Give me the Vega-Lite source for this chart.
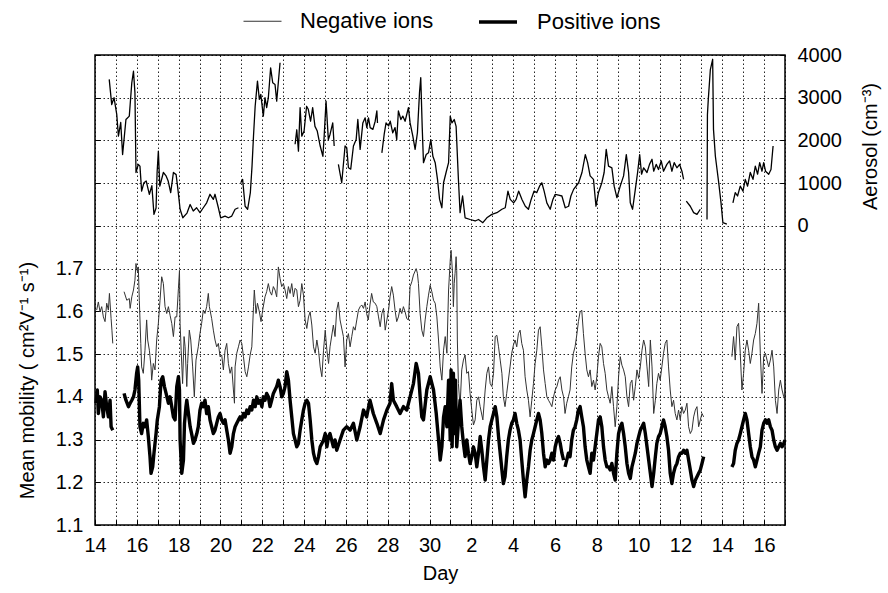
{
  "$schema": "https://vega.github.io/schema/vega-lite/v6.json",
  "autosize": "none",
  "width": 690,
  "height": 470,
  "padding": {"left": 95, "top": 55, "right": 103, "bottom": 68},
  "background": "white",
  "config": {
    "font": "Liberation Sans",
    "view": {"stroke": "black", "strokeWidth": 1.5},
    "axis": {
      "domain": false,
      "labelFontSize": 20,
      "labelColor": "black",
      "labelFlush": false,
      "titleFontSize": 20,
      "titleFontWeight": "normal",
      "titleColor": "black",
      "tickColor": "black",
      "tickSize": -5,
      "labelPadding": 17,
      "gridColor": "black",
      "gridOpacity": 0.85,
      "gridDash": [1.5, 2.5],
      "gridWidth": 1
    },
    "legend": {
      "labelFontSize": 22,
      "labelColor": "black",
      "symbolType": "stroke",
      "symbolSize": 1444
    }
  },
  "datasets": {
    "ions": [
      {"t": 14.08, "s": "Negative ions", "m": 1.603}, {"t": 14.16, "s": "Negative ions", "m": 1.622}, {"t": 14.24, "s": "Negative ions", "m": 1.599}, {"t": 14.32, "s": "Negative ions", "m": 1.611}, {"t": 14.40, "s": "Negative ions", "m": 1.587}, {"t": 14.48, "s": "Negative ions", "m": 1.576}, {"t": 14.56, "s": "Negative ions", "m": 1.619}, {"t": 14.64, "s": "Negative ions", "m": 1.603}, {"t": 14.69, "s": "Negative ions", "m": 1.642}, {"t": 14.77, "s": "Negative ions", "m": 1.583}, {"t": 14.81, "s": "Negative ions", "m": 1.556}, {"t": 14.85, "s": "Negative ions", "m": 1.525},
      {"t": 15.10, "s": "Negative ions", "m": null},
      {"t": 15.39, "s": "Negative ions", "m": 1.646}, {"t": 15.52, "s": "Negative ions", "m": 1.626}, {"t": 15.64, "s": "Negative ions", "m": 1.630}, {"t": 15.68, "s": "Negative ions", "m": 1.607}, {"t": 15.76, "s": "Negative ions", "m": 1.634}, {"t": 15.84, "s": "Negative ions", "m": 1.650}, {"t": 15.91, "s": "Negative ions", "m": 1.673}, {"t": 15.96, "s": "Negative ions", "m": 1.712}, {"t": 16.03, "s": "Negative ions", "m": 1.693}, {"t": 16.07, "s": "Negative ions", "m": 1.704}, {"t": 16.12, "s": "Negative ions", "m": 1.626}, {"t": 16.19, "s": "Negative ions", "m": 1.525}, {"t": 16.23, "s": "Negative ions", "m": 1.470}, {"t": 16.31, "s": "Negative ions", "m": 1.455}, {"t": 16.39, "s": "Negative ions", "m": 1.509}, {"t": 16.47, "s": "Negative ions", "m": 1.580}, {"t": 16.52, "s": "Negative ions", "m": 1.533}, {"t": 16.60, "s": "Negative ions", "m": 1.509}, {"t": 16.68, "s": "Negative ions", "m": 1.470}, {"t": 16.71, "s": "Negative ions", "m": 1.439}, {"t": 16.79, "s": "Negative ions", "m": 1.478}, {"t": 16.87, "s": "Negative ions", "m": 1.463}, {"t": 16.95, "s": "Negative ions", "m": 1.533}, {"t": 17.03, "s": "Negative ions", "m": 1.572}, {"t": 17.11, "s": "Negative ions", "m": 1.626}, {"t": 17.19, "s": "Negative ions", "m": 1.681}, {"t": 17.27, "s": "Negative ions", "m": 1.665}, {"t": 17.35, "s": "Negative ions", "m": 1.611}, {"t": 17.43, "s": "Negative ions", "m": 1.595}, {"t": 17.51, "s": "Negative ions", "m": 1.611}, {"t": 17.59, "s": "Negative ions", "m": 1.591}, {"t": 17.67, "s": "Negative ions", "m": 1.572}, {"t": 17.75, "s": "Negative ions", "m": 1.541}, {"t": 17.83, "s": "Negative ions", "m": 1.587}, {"t": 17.91, "s": "Negative ions", "m": 1.587}, {"t": 17.99, "s": "Negative ions", "m": 1.654}, {"t": 18.04, "s": "Negative ions", "m": 1.696}, {"t": 18.07, "s": "Negative ions", "m": 1.572}, {"t": 18.12, "s": "Negative ions", "m": 1.509}, {"t": 18.19, "s": "Negative ions", "m": 1.431}, {"t": 18.26, "s": "Negative ions", "m": 1.541}, {"t": 18.31, "s": "Negative ions", "m": 1.517}, {"t": 18.39, "s": "Negative ions", "m": 1.424}, {"t": 18.43, "s": "Negative ions", "m": 1.478}, {"t": 18.51, "s": "Negative ions", "m": 1.556}, {"t": 18.58, "s": "Negative ions", "m": 1.533}, {"t": 18.67, "s": "Negative ions", "m": 1.470}, {"t": 18.75, "s": "Negative ions", "m": 1.400}, {"t": 18.83, "s": "Negative ions", "m": 1.486}, {"t": 18.94, "s": "Negative ions", "m": 1.517}, {"t": 19.02, "s": "Negative ions", "m": 1.548}, {"t": 19.10, "s": "Negative ions", "m": 1.572}, {"t": 19.18, "s": "Negative ions", "m": 1.603}, {"t": 19.26, "s": "Negative ions", "m": 1.595}, {"t": 19.34, "s": "Negative ions", "m": 1.611}, {"t": 19.42, "s": "Negative ions", "m": 1.642}, {"t": 19.47, "s": "Negative ions", "m": 1.611}, {"t": 19.58, "s": "Negative ions", "m": 1.583}, {"t": 19.66, "s": "Negative ions", "m": 1.556}, {"t": 19.74, "s": "Negative ions", "m": 1.533}, {"t": 19.82, "s": "Negative ions", "m": 1.517}, {"t": 19.90, "s": "Negative ions", "m": 1.525}, {"t": 19.98, "s": "Negative ions", "m": 1.494}, {"t": 20.06, "s": "Negative ions", "m": 1.498}, {"t": 20.14, "s": "Negative ions", "m": 1.463}, {"t": 20.22, "s": "Negative ions", "m": 1.509}, {"t": 20.30, "s": "Negative ions", "m": 1.525}, {"t": 20.38, "s": "Negative ions", "m": 1.478}, {"t": 20.46, "s": "Negative ions", "m": 1.455}, {"t": 20.54, "s": "Negative ions", "m": 1.470}, {"t": 20.62, "s": "Negative ions", "m": 1.416}, {"t": 20.67, "s": "Negative ions", "m": 1.385}, {"t": 20.70, "s": "Negative ions", "m": 1.470}, {"t": 20.78, "s": "Negative ions", "m": 1.502}, {"t": 20.86, "s": "Negative ions", "m": 1.517}, {"t": 20.94, "s": "Negative ions", "m": 1.533}, {"t": 21.02, "s": "Negative ions", "m": 1.525}, {"t": 21.10, "s": "Negative ions", "m": 1.494}, {"t": 21.18, "s": "Negative ions", "m": 1.459}, {"t": 21.26, "s": "Negative ions", "m": 1.447}, {"t": 21.34, "s": "Negative ions", "m": 1.470}, {"t": 21.42, "s": "Negative ions", "m": 1.498}, {"t": 21.50, "s": "Negative ions", "m": 1.517}, {"t": 21.58, "s": "Negative ions", "m": 1.611}, {"t": 21.62, "s": "Negative ions", "m": 1.650}, {"t": 21.70, "s": "Negative ions", "m": 1.595}, {"t": 21.77, "s": "Negative ions", "m": 1.619}, {"t": 21.86, "s": "Negative ions", "m": 1.599}, {"t": 21.94, "s": "Negative ions", "m": 1.576}, {"t": 22.02, "s": "Negative ions", "m": 1.603}, {"t": 22.13, "s": "Negative ions", "m": 1.634}, {"t": 22.21, "s": "Negative ions", "m": 1.646}, {"t": 22.29, "s": "Negative ions", "m": 1.665}, {"t": 22.37, "s": "Negative ions", "m": 1.646}, {"t": 22.45, "s": "Negative ions", "m": 1.638}, {"t": 22.53, "s": "Negative ions", "m": 1.658}, {"t": 22.61, "s": "Negative ions", "m": 1.650}, {"t": 22.69, "s": "Negative ions", "m": 1.634}, {"t": 22.77, "s": "Negative ions", "m": 1.704}, {"t": 22.85, "s": "Negative ions", "m": 1.677}, {"t": 22.93, "s": "Negative ions", "m": 1.658}, {"t": 23.01, "s": "Negative ions", "m": 1.665}, {"t": 23.09, "s": "Negative ions", "m": 1.650}, {"t": 23.17, "s": "Negative ions", "m": 1.630}, {"t": 23.25, "s": "Negative ions", "m": 1.658}, {"t": 23.33, "s": "Negative ions", "m": 1.642}, {"t": 23.41, "s": "Negative ions", "m": 1.665}, {"t": 23.49, "s": "Negative ions", "m": 1.634}, {"t": 23.57, "s": "Negative ions", "m": 1.654}, {"t": 23.65, "s": "Negative ions", "m": 1.650}, {"t": 23.73, "s": "Negative ions", "m": 1.611}, {"t": 23.81, "s": "Negative ions", "m": 1.626}, {"t": 23.89, "s": "Negative ions", "m": 1.665}, {"t": 23.97, "s": "Negative ions", "m": 1.638}, {"t": 24.05, "s": "Negative ions", "m": 1.580}, {"t": 24.13, "s": "Negative ions", "m": 1.560}, {"t": 24.21, "s": "Negative ions", "m": 1.587}, {"t": 24.29, "s": "Negative ions", "m": 1.599}, {"t": 24.37, "s": "Negative ions", "m": 1.568}, {"t": 24.45, "s": "Negative ions", "m": 1.517}, {"t": 24.53, "s": "Negative ions", "m": 1.502}, {"t": 24.61, "s": "Negative ions", "m": 1.533}, {"t": 24.69, "s": "Negative ions", "m": 1.509}, {"t": 24.77, "s": "Negative ions", "m": 1.470}, {"t": 24.85, "s": "Negative ions", "m": 1.447}, {"t": 24.93, "s": "Negative ions", "m": 1.509}, {"t": 25.01, "s": "Negative ions", "m": 1.556}, {"t": 25.09, "s": "Negative ions", "m": 1.509}, {"t": 25.17, "s": "Negative ions", "m": 1.478}, {"t": 25.24, "s": "Negative ions", "m": 1.517}, {"t": 25.40, "s": "Negative ions", "m": 1.568}, {"t": 25.48, "s": "Negative ions", "m": 1.541}, {"t": 25.56, "s": "Negative ions", "m": 1.603}, {"t": 25.64, "s": "Negative ions", "m": 1.622}, {"t": 25.72, "s": "Negative ions", "m": 1.580}, {"t": 25.88, "s": "Negative ions", "m": 1.541}, {"t": 25.96, "s": "Negative ions", "m": 1.470}, {"t": 26.04, "s": "Negative ions", "m": 1.533}, {"t": 26.12, "s": "Negative ions", "m": 1.548}, {"t": 26.20, "s": "Negative ions", "m": 1.517}, {"t": 26.28, "s": "Negative ions", "m": 1.541}, {"t": 26.36, "s": "Negative ions", "m": 1.564}, {"t": 26.44, "s": "Negative ions", "m": 1.556}, {"t": 26.52, "s": "Negative ions", "m": 1.580}, {"t": 26.60, "s": "Negative ions", "m": 1.603}, {"t": 26.68, "s": "Negative ions", "m": 1.611}, {"t": 26.76, "s": "Negative ions", "m": 1.615}, {"t": 26.84, "s": "Negative ions", "m": 1.607}, {"t": 26.92, "s": "Negative ions", "m": 1.622}, {"t": 26.99, "s": "Negative ions", "m": 1.595}, {"t": 27.07, "s": "Negative ions", "m": 1.580}, {"t": 27.15, "s": "Negative ions", "m": 1.615}, {"t": 27.23, "s": "Negative ions", "m": 1.642}, {"t": 27.31, "s": "Negative ions", "m": 1.622}, {"t": 27.40, "s": "Negative ions", "m": 1.619}, {"t": 27.48, "s": "Negative ions", "m": 1.611}, {"t": 27.56, "s": "Negative ions", "m": 1.587}, {"t": 27.64, "s": "Negative ions", "m": 1.564}, {"t": 27.72, "s": "Negative ions", "m": 1.595}, {"t": 27.80, "s": "Negative ions", "m": 1.607}, {"t": 27.88, "s": "Negative ions", "m": 1.556}, {"t": 27.96, "s": "Negative ions", "m": 1.580}, {"t": 28.04, "s": "Negative ions", "m": 1.603}, {"t": 28.11, "s": "Negative ions", "m": 1.634}, {"t": 28.19, "s": "Negative ions", "m": 1.658}, {"t": 28.27, "s": "Negative ions", "m": 1.638}, {"t": 28.35, "s": "Negative ions", "m": 1.603}, {"t": 28.43, "s": "Negative ions", "m": 1.576}, {"t": 28.51, "s": "Negative ions", "m": 1.587}, {"t": 28.59, "s": "Negative ions", "m": 1.607}, {"t": 28.67, "s": "Negative ions", "m": 1.595}, {"t": 28.75, "s": "Negative ions", "m": 1.611}, {"t": 28.83, "s": "Negative ions", "m": 1.599}, {"t": 28.91, "s": "Negative ions", "m": 1.583}, {"t": 28.99, "s": "Negative ions", "m": 1.580}, {"t": 29.07, "s": "Negative ions", "m": 1.658}, {"t": 29.15, "s": "Negative ions", "m": 1.669}, {"t": 29.23, "s": "Negative ions", "m": 1.685}, {"t": 29.36, "s": "Negative ions", "m": 1.700}, {"t": 29.42, "s": "Negative ions", "m": 1.689}, {"t": 29.47, "s": "Negative ions", "m": 1.665}, {"t": 29.55, "s": "Negative ions", "m": 1.595}, {"t": 29.63, "s": "Negative ions", "m": 1.556}, {"t": 29.71, "s": "Negative ions", "m": 1.541}, {"t": 29.79, "s": "Negative ions", "m": 1.580}, {"t": 29.87, "s": "Negative ions", "m": 1.611}, {"t": 29.95, "s": "Negative ions", "m": 1.638}, {"t": 30.03, "s": "Negative ions", "m": 1.661}, {"t": 30.11, "s": "Negative ions", "m": 1.646}, {"t": 30.19, "s": "Negative ions", "m": 1.626}, {"t": 30.27, "s": "Negative ions", "m": 1.619}, {"t": 30.35, "s": "Negative ions", "m": 1.587}, {"t": 30.43, "s": "Negative ions", "m": 1.533}, {"t": 30.51, "s": "Negative ions", "m": 1.470}, {"t": 30.59, "s": "Negative ions", "m": 1.439}, {"t": 30.67, "s": "Negative ions", "m": 1.509}, {"t": 30.75, "s": "Negative ions", "m": 1.541}, {"t": 30.83, "s": "Negative ions", "m": 1.502}, {"t": 30.91, "s": "Negative ions", "m": 1.650}, {"t": 30.99, "s": "Negative ions", "m": 1.720}, {"t": 31.03, "s": "Negative ions", "m": 1.743}, {"t": 31.10, "s": "Negative ions", "m": 1.689}, {"t": 31.14, "s": "Negative ions", "m": 1.611}, {"t": 31.18, "s": "Negative ions", "m": 1.665}, {"t": 31.22, "s": "Negative ions", "m": 1.689}, {"t": 31.27, "s": "Negative ions", "m": 1.728}, {"t": 31.30, "s": "Negative ions", "m": 1.696}, {"t": 31.33, "s": "Negative ions", "m": 1.533}, {"t": 31.38, "s": "Negative ions", "m": 1.431}, {"t": 31.46, "s": "Negative ions", "m": 1.377}, {"t": 31.54, "s": "Negative ions", "m": 1.463}, {"t": 31.62, "s": "Negative ions", "m": 1.486}, {"t": 31.70, "s": "Negative ions", "m": 1.498}, {"t": 31.78, "s": "Negative ions", "m": 1.455}, {"t": 31.86, "s": "Negative ions", "m": 1.459}, {"t": 31.94, "s": "Negative ions", "m": 1.408}, {"t": 32.02, "s": "Negative ions", "m": 1.369}, {"t": 32.10, "s": "Negative ions", "m": 1.334}, {"t": 32.18, "s": "Negative ions", "m": 1.346}, {"t": 32.26, "s": "Negative ions", "m": 1.392}, {"t": 32.34, "s": "Negative ions", "m": 1.400}, {"t": 32.42, "s": "Negative ions", "m": 1.377}, {"t": 32.55, "s": "Negative ions", "m": 1.346}, {"t": 32.66, "s": "Negative ions", "m": 1.416}, {"t": 32.74, "s": "Negative ions", "m": 1.455}, {"t": 32.82, "s": "Negative ions", "m": 1.470}, {"t": 32.90, "s": "Negative ions", "m": 1.431}, {"t": 32.98, "s": "Negative ions", "m": 1.424}, {"t": 33.06, "s": "Negative ions", "m": 1.455}, {"t": 33.14, "s": "Negative ions", "m": 1.541}, {"t": 33.22, "s": "Negative ions", "m": 1.544}, {"t": 33.30, "s": "Negative ions", "m": 1.517}, {"t": 33.38, "s": "Negative ions", "m": 1.486}, {"t": 33.46, "s": "Negative ions", "m": 1.455}, {"t": 33.53, "s": "Negative ions", "m": 1.400}, {"t": 33.61, "s": "Negative ions", "m": 1.377}, {"t": 33.69, "s": "Negative ions", "m": 1.408}, {"t": 33.77, "s": "Negative ions", "m": 1.439}, {"t": 33.85, "s": "Negative ions", "m": 1.470}, {"t": 33.93, "s": "Negative ions", "m": 1.502}, {"t": 34.01, "s": "Negative ions", "m": 1.521}, {"t": 34.09, "s": "Negative ions", "m": 1.533}, {"t": 34.17, "s": "Negative ions", "m": 1.517}, {"t": 34.25, "s": "Negative ions", "m": 1.548}, {"t": 34.33, "s": "Negative ions", "m": 1.556}, {"t": 34.41, "s": "Negative ions", "m": 1.525}, {"t": 34.49, "s": "Negative ions", "m": 1.509}, {"t": 34.57, "s": "Negative ions", "m": 1.447}, {"t": 34.65, "s": "Negative ions", "m": 1.416}, {"t": 34.73, "s": "Negative ions", "m": 1.392}, {"t": 34.81, "s": "Negative ions", "m": 1.353}, {"t": 34.89, "s": "Negative ions", "m": 1.392}, {"t": 34.97, "s": "Negative ions", "m": 1.431}, {"t": 35.05, "s": "Negative ions", "m": 1.478}, {"t": 35.13, "s": "Negative ions", "m": 1.509}, {"t": 35.21, "s": "Negative ions", "m": 1.556}, {"t": 35.29, "s": "Negative ions", "m": 1.564}, {"t": 35.37, "s": "Negative ions", "m": 1.517}, {"t": 35.45, "s": "Negative ions", "m": 1.463}, {"t": 35.53, "s": "Negative ions", "m": 1.431}, {"t": 35.61, "s": "Negative ions", "m": 1.400}, {"t": 35.69, "s": "Negative ions", "m": 1.392}, {"t": 35.77, "s": "Negative ions", "m": 1.385}, {"t": 35.85, "s": "Negative ions", "m": 1.377}, {"t": 35.93, "s": "Negative ions", "m": 1.400}, {"t": 36.01, "s": "Negative ions", "m": 1.416}, {"t": 36.09, "s": "Negative ions", "m": 1.424}, {"t": 36.17, "s": "Negative ions", "m": 1.439}, {"t": 36.25, "s": "Negative ions", "m": 1.447}, {"t": 36.33, "s": "Negative ions", "m": 1.416}, {"t": 36.41, "s": "Negative ions", "m": 1.400}, {"t": 36.48, "s": "Negative ions", "m": 1.361}, {"t": 36.56, "s": "Negative ions", "m": 1.385}, {"t": 36.64, "s": "Negative ions", "m": 1.400}, {"t": 36.72, "s": "Negative ions", "m": 1.416}, {"t": 36.80, "s": "Negative ions", "m": 1.470}, {"t": 36.88, "s": "Negative ions", "m": 1.502}, {"t": 36.96, "s": "Negative ions", "m": 1.517}, {"t": 37.04, "s": "Negative ions", "m": 1.544}, {"t": 37.12, "s": "Negative ions", "m": 1.576}, {"t": 37.20, "s": "Negative ions", "m": 1.599}, {"t": 37.28, "s": "Negative ions", "m": 1.603}, {"t": 37.36, "s": "Negative ions", "m": 1.548}, {"t": 37.44, "s": "Negative ions", "m": 1.502}, {"t": 37.52, "s": "Negative ions", "m": 1.463}, {"t": 37.60, "s": "Negative ions", "m": 1.447}, {"t": 37.68, "s": "Negative ions", "m": 1.463}, {"t": 37.76, "s": "Negative ions", "m": 1.424}, {"t": 37.84, "s": "Negative ions", "m": 1.439}, {"t": 37.92, "s": "Negative ions", "m": 1.416}, {"t": 38.00, "s": "Negative ions", "m": 1.447}, {"t": 38.08, "s": "Negative ions", "m": 1.494}, {"t": 38.16, "s": "Negative ions", "m": 1.525}, {"t": 38.24, "s": "Negative ions", "m": 1.517}, {"t": 38.32, "s": "Negative ions", "m": 1.478}, {"t": 38.40, "s": "Negative ions", "m": 1.455}, {"t": 38.48, "s": "Negative ions", "m": 1.416}, {"t": 38.56, "s": "Negative ions", "m": 1.400}, {"t": 38.64, "s": "Negative ions", "m": 1.385}, {"t": 38.72, "s": "Negative ions", "m": 1.424}, {"t": 38.80, "s": "Negative ions", "m": 1.377}, {"t": 38.88, "s": "Negative ions", "m": 1.330}, {"t": 38.96, "s": "Negative ions", "m": 1.377}, {"t": 39.04, "s": "Negative ions", "m": 1.447}, {"t": 39.12, "s": "Negative ions", "m": 1.494}, {"t": 39.20, "s": "Negative ions", "m": 1.474}, {"t": 39.28, "s": "Negative ions", "m": 1.463}, {"t": 39.36, "s": "Negative ions", "m": 1.447}, {"t": 39.44, "s": "Negative ions", "m": 1.400}, {"t": 39.52, "s": "Negative ions", "m": 1.377}, {"t": 39.60, "s": "Negative ions", "m": 1.431}, {"t": 39.68, "s": "Negative ions", "m": 1.439}, {"t": 39.76, "s": "Negative ions", "m": 1.392}, {"t": 39.84, "s": "Negative ions", "m": 1.424}, {"t": 39.92, "s": "Negative ions", "m": 1.463}, {"t": 40.00, "s": "Negative ions", "m": 1.443}, {"t": 40.08, "s": "Negative ions", "m": 1.470}, {"t": 40.16, "s": "Negative ions", "m": 1.509}, {"t": 40.24, "s": "Negative ions", "m": 1.533}, {"t": 40.32, "s": "Negative ions", "m": 1.517}, {"t": 40.40, "s": "Negative ions", "m": 1.470}, {"t": 40.48, "s": "Negative ions", "m": 1.424}, {"t": 40.56, "s": "Negative ions", "m": 1.533}, {"t": 40.64, "s": "Negative ions", "m": 1.470}, {"t": 40.72, "s": "Negative ions", "m": 1.361}, {"t": 40.80, "s": "Negative ions", "m": 1.392}, {"t": 40.87, "s": "Negative ions", "m": 1.431}, {"t": 40.95, "s": "Negative ions", "m": 1.455}, {"t": 41.03, "s": "Negative ions", "m": 1.439}, {"t": 41.11, "s": "Negative ions", "m": 1.470}, {"t": 41.19, "s": "Negative ions", "m": 1.502}, {"t": 41.27, "s": "Negative ions", "m": 1.525}, {"t": 41.35, "s": "Negative ions", "m": 1.533}, {"t": 41.43, "s": "Negative ions", "m": 1.470}, {"t": 41.51, "s": "Negative ions", "m": 1.416}, {"t": 41.59, "s": "Negative ions", "m": 1.377}, {"t": 41.67, "s": "Negative ions", "m": 1.392}, {"t": 41.75, "s": "Negative ions", "m": 1.361}, {"t": 41.83, "s": "Negative ions", "m": 1.346}, {"t": 41.91, "s": "Negative ions", "m": 1.369}, {"t": 41.99, "s": "Negative ions", "m": 1.346}, {"t": 42.07, "s": "Negative ions", "m": 1.377}, {"t": 42.15, "s": "Negative ions", "m": 1.361}, {"t": 42.23, "s": "Negative ions", "m": 1.369}, {"t": 42.31, "s": "Negative ions", "m": 1.385}, {"t": 42.39, "s": "Negative ions", "m": 1.330}, {"t": 42.47, "s": "Negative ions", "m": 1.314}, {"t": 42.55, "s": "Negative ions", "m": 1.322}, {"t": 42.63, "s": "Negative ions", "m": 1.353}, {"t": 42.71, "s": "Negative ions", "m": 1.369}, {"t": 42.79, "s": "Negative ions", "m": 1.377}, {"t": 42.87, "s": "Negative ions", "m": 1.330}, {"t": 42.95, "s": "Negative ions", "m": 1.346}, {"t": 43.03, "s": "Negative ions", "m": 1.361}, {"t": 43.11, "s": "Negative ions", "m": 1.353},
      {"t": 43.80, "s": "Negative ions", "m": null},
      {"t": 44.46, "s": "Negative ions", "m": 1.494}, {"t": 44.54, "s": "Negative ions", "m": 1.541}, {"t": 44.62, "s": "Negative ions", "m": 1.486}, {"t": 44.70, "s": "Negative ions", "m": 1.564}, {"t": 44.78, "s": "Negative ions", "m": 1.572}, {"t": 44.86, "s": "Negative ions", "m": 1.502}, {"t": 44.94, "s": "Negative ions", "m": 1.416}, {"t": 45.02, "s": "Negative ions", "m": 1.455}, {"t": 45.10, "s": "Negative ions", "m": 1.509}, {"t": 45.18, "s": "Negative ions", "m": 1.533}, {"t": 45.26, "s": "Negative ions", "m": 1.509}, {"t": 45.34, "s": "Negative ions", "m": 1.478}, {"t": 45.42, "s": "Negative ions", "m": 1.502}, {"t": 45.50, "s": "Negative ions", "m": 1.533}, {"t": 45.58, "s": "Negative ions", "m": 1.548}, {"t": 45.66, "s": "Negative ions", "m": 1.572}, {"t": 45.74, "s": "Negative ions", "m": 1.619}, {"t": 45.82, "s": "Negative ions", "m": 1.502}, {"t": 45.90, "s": "Negative ions", "m": 1.408}, {"t": 45.98, "s": "Negative ions", "m": 1.494}, {"t": 46.06, "s": "Negative ions", "m": 1.502}, {"t": 46.14, "s": "Negative ions", "m": 1.486}, {"t": 46.22, "s": "Negative ions", "m": 1.470}, {"t": 46.30, "s": "Negative ions", "m": 1.486}, {"t": 46.38, "s": "Negative ions", "m": 1.509}, {"t": 46.46, "s": "Negative ions", "m": 1.470}, {"t": 46.54, "s": "Negative ions", "m": 1.392}, {"t": 46.62, "s": "Negative ions", "m": 1.361}, {"t": 46.70, "s": "Negative ions", "m": 1.416}, {"t": 46.78, "s": "Negative ions", "m": 1.439}, {"t": 46.86, "s": "Negative ions", "m": 1.416}, {"t": 46.94, "s": "Negative ions", "m": 1.400}, {"t": 47.00, "s": "Negative ions", "m": 1.392},

      {"t": 14.05, "s": "Positive ions", "m": 1.385}, {"t": 14.11, "s": "Positive ions", "m": 1.416}, {"t": 14.16, "s": "Positive ions", "m": 1.361}, {"t": 14.24, "s": "Positive ions", "m": 1.400}, {"t": 14.32, "s": "Positive ions", "m": 1.392}, {"t": 14.40, "s": "Positive ions", "m": 1.353}, {"t": 14.48, "s": "Positive ions", "m": 1.412}, {"t": 14.56, "s": "Positive ions", "m": 1.377}, {"t": 14.64, "s": "Positive ions", "m": 1.353}, {"t": 14.72, "s": "Positive ions", "m": 1.392}, {"t": 14.77, "s": "Positive ions", "m": 1.330}, {"t": 14.85, "s": "Positive ions", "m": 1.322},
      {"t": 15.10, "s": "Positive ions", "m": null},
      {"t": 15.39, "s": "Positive ions", "m": 1.408}, {"t": 15.48, "s": "Positive ions", "m": 1.392}, {"t": 15.60, "s": "Positive ions", "m": 1.377}, {"t": 15.68, "s": "Positive ions", "m": 1.385}, {"t": 15.76, "s": "Positive ions", "m": 1.392}, {"t": 15.84, "s": "Positive ions", "m": 1.400}, {"t": 15.91, "s": "Positive ions", "m": 1.416}, {"t": 15.99, "s": "Positive ions", "m": 1.455}, {"t": 16.04, "s": "Positive ions", "m": 1.470}, {"t": 16.09, "s": "Positive ions", "m": 1.439}, {"t": 16.15, "s": "Positive ions", "m": 1.330}, {"t": 16.23, "s": "Positive ions", "m": 1.314}, {"t": 16.31, "s": "Positive ions", "m": 1.338}, {"t": 16.39, "s": "Positive ions", "m": 1.330}, {"t": 16.47, "s": "Positive ions", "m": 1.346}, {"t": 16.55, "s": "Positive ions", "m": 1.307}, {"t": 16.63, "s": "Positive ions", "m": 1.260}, {"t": 16.68, "s": "Positive ions", "m": 1.221}, {"t": 16.76, "s": "Positive ions", "m": 1.236}, {"t": 16.82, "s": "Positive ions", "m": 1.268}, {"t": 16.92, "s": "Positive ions", "m": 1.314}, {"t": 16.98, "s": "Positive ions", "m": 1.346}, {"t": 17.08, "s": "Positive ions", "m": 1.377}, {"t": 17.16, "s": "Positive ions", "m": 1.439}, {"t": 17.24, "s": "Positive ions", "m": 1.447}, {"t": 17.32, "s": "Positive ions", "m": 1.424}, {"t": 17.40, "s": "Positive ions", "m": 1.408}, {"t": 17.51, "s": "Positive ions", "m": 1.385}, {"t": 17.59, "s": "Positive ions", "m": 1.400}, {"t": 17.67, "s": "Positive ions", "m": 1.377}, {"t": 17.75, "s": "Positive ions", "m": 1.353}, {"t": 17.83, "s": "Positive ions", "m": 1.346}, {"t": 17.91, "s": "Positive ions", "m": 1.424}, {"t": 17.99, "s": "Positive ions", "m": 1.447}, {"t": 18.04, "s": "Positive ions", "m": 1.416}, {"t": 18.07, "s": "Positive ions", "m": 1.299}, {"t": 18.15, "s": "Positive ions", "m": 1.221}, {"t": 18.23, "s": "Positive ions", "m": 1.252}, {"t": 18.28, "s": "Positive ions", "m": 1.338}, {"t": 18.35, "s": "Positive ions", "m": 1.377}, {"t": 18.39, "s": "Positive ions", "m": 1.392}, {"t": 18.47, "s": "Positive ions", "m": 1.361}, {"t": 18.55, "s": "Positive ions", "m": 1.330}, {"t": 18.62, "s": "Positive ions", "m": 1.314}, {"t": 18.71, "s": "Positive ions", "m": 1.291}, {"t": 18.78, "s": "Positive ions", "m": 1.299}, {"t": 18.87, "s": "Positive ions", "m": 1.314}, {"t": 18.94, "s": "Positive ions", "m": 1.330}, {"t": 19.02, "s": "Positive ions", "m": 1.369}, {"t": 19.10, "s": "Positive ions", "m": 1.385}, {"t": 19.18, "s": "Positive ions", "m": 1.377}, {"t": 19.26, "s": "Positive ions", "m": 1.392}, {"t": 19.34, "s": "Positive ions", "m": 1.361}, {"t": 19.42, "s": "Positive ions", "m": 1.377}, {"t": 19.50, "s": "Positive ions", "m": 1.346}, {"t": 19.58, "s": "Positive ions", "m": 1.330}, {"t": 19.66, "s": "Positive ions", "m": 1.314}, {"t": 19.74, "s": "Positive ions", "m": 1.322}, {"t": 19.82, "s": "Positive ions", "m": 1.338}, {"t": 19.90, "s": "Positive ions", "m": 1.353}, {"t": 19.98, "s": "Positive ions", "m": 1.361}, {"t": 20.06, "s": "Positive ions", "m": 1.346}, {"t": 20.14, "s": "Positive ions", "m": 1.338}, {"t": 20.22, "s": "Positive ions", "m": 1.346}, {"t": 20.30, "s": "Positive ions", "m": 1.322}, {"t": 20.38, "s": "Positive ions", "m": 1.299}, {"t": 20.46, "s": "Positive ions", "m": 1.268}, {"t": 20.54, "s": "Positive ions", "m": 1.283}, {"t": 20.62, "s": "Positive ions", "m": 1.314}, {"t": 20.70, "s": "Positive ions", "m": 1.330}, {"t": 20.78, "s": "Positive ions", "m": 1.338}, {"t": 20.86, "s": "Positive ions", "m": 1.346}, {"t": 20.94, "s": "Positive ions", "m": 1.353}, {"t": 21.02, "s": "Positive ions", "m": 1.346}, {"t": 21.10, "s": "Positive ions", "m": 1.361}, {"t": 21.18, "s": "Positive ions", "m": 1.353}, {"t": 21.26, "s": "Positive ions", "m": 1.369}, {"t": 21.34, "s": "Positive ions", "m": 1.361}, {"t": 21.42, "s": "Positive ions", "m": 1.377}, {"t": 21.50, "s": "Positive ions", "m": 1.369}, {"t": 21.58, "s": "Positive ions", "m": 1.392}, {"t": 21.66, "s": "Positive ions", "m": 1.377}, {"t": 21.74, "s": "Positive ions", "m": 1.400}, {"t": 21.82, "s": "Positive ions", "m": 1.385}, {"t": 21.90, "s": "Positive ions", "m": 1.392}, {"t": 21.98, "s": "Positive ions", "m": 1.377}, {"t": 22.05, "s": "Positive ions", "m": 1.400}, {"t": 22.13, "s": "Positive ions", "m": 1.392}, {"t": 22.21, "s": "Positive ions", "m": 1.408}, {"t": 22.29, "s": "Positive ions", "m": 1.400}, {"t": 22.37, "s": "Positive ions", "m": 1.377}, {"t": 22.45, "s": "Positive ions", "m": 1.392}, {"t": 22.53, "s": "Positive ions", "m": 1.408}, {"t": 22.61, "s": "Positive ions", "m": 1.416}, {"t": 22.69, "s": "Positive ions", "m": 1.424}, {"t": 22.77, "s": "Positive ions", "m": 1.439}, {"t": 22.85, "s": "Positive ions", "m": 1.424}, {"t": 22.93, "s": "Positive ions", "m": 1.400}, {"t": 23.01, "s": "Positive ions", "m": 1.408}, {"t": 23.09, "s": "Positive ions", "m": 1.424}, {"t": 23.17, "s": "Positive ions", "m": 1.459}, {"t": 23.25, "s": "Positive ions", "m": 1.439}, {"t": 23.33, "s": "Positive ions", "m": 1.392}, {"t": 23.41, "s": "Positive ions", "m": 1.353}, {"t": 23.49, "s": "Positive ions", "m": 1.314}, {"t": 23.57, "s": "Positive ions", "m": 1.299}, {"t": 23.65, "s": "Positive ions", "m": 1.283}, {"t": 23.73, "s": "Positive ions", "m": 1.291}, {"t": 23.81, "s": "Positive ions", "m": 1.322}, {"t": 23.89, "s": "Positive ions", "m": 1.346}, {"t": 23.97, "s": "Positive ions", "m": 1.369}, {"t": 24.05, "s": "Positive ions", "m": 1.385}, {"t": 24.13, "s": "Positive ions", "m": 1.392}, {"t": 24.21, "s": "Positive ions", "m": 1.385}, {"t": 24.29, "s": "Positive ions", "m": 1.346}, {"t": 24.37, "s": "Positive ions", "m": 1.299}, {"t": 24.45, "s": "Positive ions", "m": 1.268}, {"t": 24.53, "s": "Positive ions", "m": 1.252}, {"t": 24.61, "s": "Positive ions", "m": 1.244}, {"t": 24.69, "s": "Positive ions", "m": 1.260}, {"t": 24.77, "s": "Positive ions", "m": 1.283}, {"t": 24.85, "s": "Positive ions", "m": 1.291}, {"t": 24.93, "s": "Positive ions", "m": 1.299}, {"t": 25.01, "s": "Positive ions", "m": 1.314}, {"t": 25.09, "s": "Positive ions", "m": 1.283}, {"t": 25.17, "s": "Positive ions", "m": 1.307}, {"t": 25.24, "s": "Positive ions", "m": 1.314}, {"t": 25.40, "s": "Positive ions", "m": 1.283}, {"t": 25.48, "s": "Positive ions", "m": 1.299}, {"t": 25.56, "s": "Positive ions", "m": 1.275}, {"t": 25.72, "s": "Positive ions", "m": 1.299}, {"t": 25.88, "s": "Positive ions", "m": 1.322}, {"t": 26.04, "s": "Positive ions", "m": 1.330}, {"t": 26.20, "s": "Positive ions", "m": 1.322}, {"t": 26.36, "s": "Positive ions", "m": 1.338}, {"t": 26.52, "s": "Positive ions", "m": 1.299}, {"t": 26.68, "s": "Positive ions", "m": 1.330}, {"t": 26.84, "s": "Positive ions", "m": 1.369}, {"t": 26.99, "s": "Positive ions", "m": 1.353}, {"t": 27.15, "s": "Positive ions", "m": 1.392}, {"t": 27.31, "s": "Positive ions", "m": 1.361}, {"t": 27.48, "s": "Positive ions", "m": 1.338}, {"t": 27.64, "s": "Positive ions", "m": 1.314}, {"t": 27.80, "s": "Positive ions", "m": 1.346}, {"t": 27.96, "s": "Positive ions", "m": 1.369}, {"t": 28.11, "s": "Positive ions", "m": 1.385}, {"t": 28.19, "s": "Positive ions", "m": 1.431}, {"t": 28.27, "s": "Positive ions", "m": 1.392}, {"t": 28.43, "s": "Positive ions", "m": 1.377}, {"t": 28.59, "s": "Positive ions", "m": 1.361}, {"t": 28.75, "s": "Positive ions", "m": 1.377}, {"t": 28.91, "s": "Positive ions", "m": 1.369}, {"t": 29.07, "s": "Positive ions", "m": 1.400}, {"t": 29.23, "s": "Positive ions", "m": 1.431}, {"t": 29.36, "s": "Positive ions", "m": 1.478}, {"t": 29.47, "s": "Positive ions", "m": 1.455}, {"t": 29.55, "s": "Positive ions", "m": 1.400}, {"t": 29.63, "s": "Positive ions", "m": 1.353}, {"t": 29.71, "s": "Positive ions", "m": 1.346}, {"t": 29.87, "s": "Positive ions", "m": 1.416}, {"t": 30.03, "s": "Positive ions", "m": 1.447}, {"t": 30.19, "s": "Positive ions", "m": 1.416}, {"t": 30.32, "s": "Positive ions", "m": 1.361}, {"t": 30.43, "s": "Positive ions", "m": 1.299}, {"t": 30.51, "s": "Positive ions", "m": 1.252}, {"t": 30.59, "s": "Positive ions", "m": 1.283}, {"t": 30.67, "s": "Positive ions", "m": 1.353}, {"t": 30.75, "s": "Positive ions", "m": 1.377}, {"t": 30.83, "s": "Positive ions", "m": 1.330}, {"t": 30.91, "s": "Positive ions", "m": 1.439}, {"t": 30.99, "s": "Positive ions", "m": 1.299}, {"t": 31.03, "s": "Positive ions", "m": 1.463}, {"t": 31.08, "s": "Positive ions", "m": 1.283}, {"t": 31.14, "s": "Positive ions", "m": 1.455}, {"t": 31.19, "s": "Positive ions", "m": 1.314}, {"t": 31.24, "s": "Positive ions", "m": 1.439}, {"t": 31.30, "s": "Positive ions", "m": 1.283}, {"t": 31.38, "s": "Positive ions", "m": 1.338}, {"t": 31.46, "s": "Positive ions", "m": 1.392}, {"t": 31.54, "s": "Positive ions", "m": 1.330}, {"t": 31.62, "s": "Positive ions", "m": 1.291}, {"t": 31.70, "s": "Positive ions", "m": 1.260}, {"t": 31.78, "s": "Positive ions", "m": 1.299}, {"t": 31.86, "s": "Positive ions", "m": 1.268}, {"t": 31.94, "s": "Positive ions", "m": 1.244}, {"t": 32.02, "s": "Positive ions", "m": 1.260}, {"t": 32.10, "s": "Positive ions", "m": 1.283}, {"t": 32.18, "s": "Positive ions", "m": 1.268}, {"t": 32.26, "s": "Positive ions", "m": 1.236}, {"t": 32.34, "s": "Positive ions", "m": 1.268}, {"t": 32.42, "s": "Positive ions", "m": 1.307}, {"t": 32.50, "s": "Positive ions", "m": 1.275}, {"t": 32.58, "s": "Positive ions", "m": 1.236}, {"t": 32.66, "s": "Positive ions", "m": 1.205}, {"t": 32.74, "s": "Positive ions", "m": 1.252}, {"t": 32.82, "s": "Positive ions", "m": 1.299}, {"t": 32.90, "s": "Positive ions", "m": 1.330}, {"t": 32.98, "s": "Positive ions", "m": 1.346}, {"t": 33.06, "s": "Positive ions", "m": 1.361}, {"t": 33.14, "s": "Positive ions", "m": 1.377}, {"t": 33.22, "s": "Positive ions", "m": 1.353}, {"t": 33.30, "s": "Positive ions", "m": 1.307}, {"t": 33.38, "s": "Positive ions", "m": 1.268}, {"t": 33.46, "s": "Positive ions", "m": 1.229}, {"t": 33.53, "s": "Positive ions", "m": 1.197}, {"t": 33.61, "s": "Positive ions", "m": 1.213}, {"t": 33.69, "s": "Positive ions", "m": 1.260}, {"t": 33.77, "s": "Positive ions", "m": 1.299}, {"t": 33.85, "s": "Positive ions", "m": 1.322}, {"t": 33.93, "s": "Positive ions", "m": 1.338}, {"t": 34.01, "s": "Positive ions", "m": 1.346}, {"t": 34.09, "s": "Positive ions", "m": 1.361}, {"t": 34.17, "s": "Positive ions", "m": 1.338}, {"t": 34.25, "s": "Positive ions", "m": 1.322}, {"t": 34.33, "s": "Positive ions", "m": 1.299}, {"t": 34.41, "s": "Positive ions", "m": 1.252}, {"t": 34.49, "s": "Positive ions", "m": 1.205}, {"t": 34.57, "s": "Positive ions", "m": 1.166}, {"t": 34.65, "s": "Positive ions", "m": 1.205}, {"t": 34.73, "s": "Positive ions", "m": 1.236}, {"t": 34.81, "s": "Positive ions", "m": 1.275}, {"t": 34.89, "s": "Positive ions", "m": 1.299}, {"t": 34.97, "s": "Positive ions", "m": 1.314}, {"t": 35.05, "s": "Positive ions", "m": 1.330}, {"t": 35.13, "s": "Positive ions", "m": 1.346}, {"t": 35.21, "s": "Positive ions", "m": 1.361}, {"t": 35.29, "s": "Positive ions", "m": 1.346}, {"t": 35.37, "s": "Positive ions", "m": 1.314}, {"t": 35.45, "s": "Positive ions", "m": 1.268}, {"t": 35.53, "s": "Positive ions", "m": 1.236}, {"t": 35.61, "s": "Positive ions", "m": 1.252}, {"t": 35.69, "s": "Positive ions", "m": 1.244}, {"t": 35.77, "s": "Positive ions", "m": 1.252}, {"t": 35.85, "s": "Positive ions", "m": 1.268}, {"t": 35.93, "s": "Positive ions", "m": 1.252}, {"t": 36.01, "s": "Positive ions", "m": 1.283}, {"t": 36.09, "s": "Positive ions", "m": 1.299}, {"t": 36.17, "s": "Positive ions", "m": 1.307}, {"t": 36.25, "s": "Positive ions", "m": 1.291}, {"t": 36.33, "s": "Positive ions", "m": 1.268}, {"t": 36.41, "s": "Positive ions", "m": 1.252},
      {"t": 36.44, "s": "Positive ions", "m": null},
      {"t": 36.48, "s": "Positive ions", "m": 1.236}, {"t": 36.56, "s": "Positive ions", "m": 1.252}, {"t": 36.64, "s": "Positive ions", "m": 1.268}, {"t": 36.72, "s": "Positive ions", "m": 1.260}, {"t": 36.80, "s": "Positive ions", "m": 1.299}, {"t": 36.88, "s": "Positive ions", "m": 1.322}, {"t": 36.96, "s": "Positive ions", "m": 1.330}, {"t": 37.04, "s": "Positive ions", "m": 1.346}, {"t": 37.12, "s": "Positive ions", "m": 1.369}, {"t": 37.20, "s": "Positive ions", "m": 1.377}, {"t": 37.28, "s": "Positive ions", "m": 1.353}, {"t": 37.36, "s": "Positive ions", "m": 1.330}, {"t": 37.44, "s": "Positive ions", "m": 1.283}, {"t": 37.52, "s": "Positive ions", "m": 1.252}, {"t": 37.60, "s": "Positive ions", "m": 1.236}, {"t": 37.68, "s": "Positive ions", "m": 1.221}, {"t": 37.76, "s": "Positive ions", "m": 1.268}, {"t": 37.84, "s": "Positive ions", "m": 1.252}, {"t": 37.92, "s": "Positive ions", "m": 1.283}, {"t": 38.00, "s": "Positive ions", "m": 1.314}, {"t": 38.08, "s": "Positive ions", "m": 1.346}, {"t": 38.16, "s": "Positive ions", "m": 1.353}, {"t": 38.24, "s": "Positive ions", "m": 1.330}, {"t": 38.32, "s": "Positive ions", "m": 1.283}, {"t": 38.40, "s": "Positive ions", "m": 1.252}, {"t": 38.48, "s": "Positive ions", "m": 1.236}, {"t": 38.56, "s": "Positive ions", "m": 1.236}, {"t": 38.64, "s": "Positive ions", "m": 1.229}, {"t": 38.72, "s": "Positive ions", "m": 1.244}, {"t": 38.80, "s": "Positive ions", "m": 1.221}, {"t": 38.88, "s": "Positive ions", "m": 1.205}, {"t": 38.96, "s": "Positive ions", "m": 1.268}, {"t": 39.04, "s": "Positive ions", "m": 1.314}, {"t": 39.12, "s": "Positive ions", "m": 1.330}, {"t": 39.20, "s": "Positive ions", "m": 1.338}, {"t": 39.28, "s": "Positive ions", "m": 1.314}, {"t": 39.36, "s": "Positive ions", "m": 1.283}, {"t": 39.44, "s": "Positive ions", "m": 1.244}, {"t": 39.52, "s": "Positive ions", "m": 1.221}, {"t": 39.60, "s": "Positive ions", "m": 1.209}, {"t": 39.68, "s": "Positive ions", "m": 1.236}, {"t": 39.76, "s": "Positive ions", "m": 1.252}, {"t": 39.84, "s": "Positive ions", "m": 1.268}, {"t": 39.92, "s": "Positive ions", "m": 1.291}, {"t": 40.00, "s": "Positive ions", "m": 1.307}, {"t": 40.08, "s": "Positive ions", "m": 1.322}, {"t": 40.16, "s": "Positive ions", "m": 1.330}, {"t": 40.24, "s": "Positive ions", "m": 1.338}, {"t": 40.32, "s": "Positive ions", "m": 1.314}, {"t": 40.40, "s": "Positive ions", "m": 1.283}, {"t": 40.48, "s": "Positive ions", "m": 1.252}, {"t": 40.56, "s": "Positive ions", "m": 1.221}, {"t": 40.64, "s": "Positive ions", "m": 1.190}, {"t": 40.72, "s": "Positive ions", "m": 1.221}, {"t": 40.80, "s": "Positive ions", "m": 1.260}, {"t": 40.87, "s": "Positive ions", "m": 1.291}, {"t": 40.95, "s": "Positive ions", "m": 1.307}, {"t": 41.03, "s": "Positive ions", "m": 1.314}, {"t": 41.11, "s": "Positive ions", "m": 1.330}, {"t": 41.19, "s": "Positive ions", "m": 1.346}, {"t": 41.27, "s": "Positive ions", "m": 1.330}, {"t": 41.35, "s": "Positive ions", "m": 1.307}, {"t": 41.43, "s": "Positive ions", "m": 1.275}, {"t": 41.51, "s": "Positive ions", "m": 1.221}, {"t": 41.59, "s": "Positive ions", "m": 1.197}, {"t": 41.67, "s": "Positive ions", "m": 1.221}, {"t": 41.75, "s": "Positive ions", "m": 1.236}, {"t": 41.83, "s": "Positive ions", "m": 1.244}, {"t": 41.91, "s": "Positive ions", "m": 1.260}, {"t": 41.99, "s": "Positive ions", "m": 1.268}, {"t": 42.07, "s": "Positive ions", "m": 1.268}, {"t": 42.15, "s": "Positive ions", "m": 1.275}, {"t": 42.23, "s": "Positive ions", "m": 1.268}, {"t": 42.31, "s": "Positive ions", "m": 1.275}, {"t": 42.39, "s": "Positive ions", "m": 1.252}, {"t": 42.47, "s": "Positive ions", "m": 1.229}, {"t": 42.55, "s": "Positive ions", "m": 1.205}, {"t": 42.63, "s": "Positive ions", "m": 1.190}, {"t": 42.71, "s": "Positive ions", "m": 1.205}, {"t": 42.79, "s": "Positive ions", "m": 1.213}, {"t": 42.87, "s": "Positive ions", "m": 1.221}, {"t": 42.95, "s": "Positive ions", "m": 1.229}, {"t": 43.03, "s": "Positive ions", "m": 1.244}, {"t": 43.11, "s": "Positive ions", "m": 1.260},
      {"t": 43.80, "s": "Positive ions", "m": null},
      {"t": 44.46, "s": "Positive ions", "m": 1.236}, {"t": 44.54, "s": "Positive ions", "m": 1.244}, {"t": 44.62, "s": "Positive ions", "m": 1.275}, {"t": 44.70, "s": "Positive ions", "m": 1.291}, {"t": 44.78, "s": "Positive ions", "m": 1.299}, {"t": 44.86, "s": "Positive ions", "m": 1.314}, {"t": 44.94, "s": "Positive ions", "m": 1.330}, {"t": 45.02, "s": "Positive ions", "m": 1.346}, {"t": 45.10, "s": "Positive ions", "m": 1.361}, {"t": 45.18, "s": "Positive ions", "m": 1.346}, {"t": 45.26, "s": "Positive ions", "m": 1.314}, {"t": 45.34, "s": "Positive ions", "m": 1.283}, {"t": 45.42, "s": "Positive ions", "m": 1.260}, {"t": 45.50, "s": "Positive ions", "m": 1.252}, {"t": 45.58, "s": "Positive ions", "m": 1.236}, {"t": 45.66, "s": "Positive ions", "m": 1.252}, {"t": 45.74, "s": "Positive ions", "m": 1.268}, {"t": 45.82, "s": "Positive ions", "m": 1.283}, {"t": 45.90, "s": "Positive ions", "m": 1.322}, {"t": 45.98, "s": "Positive ions", "m": 1.338}, {"t": 46.06, "s": "Positive ions", "m": 1.346}, {"t": 46.14, "s": "Positive ions", "m": 1.338}, {"t": 46.22, "s": "Positive ions", "m": 1.346}, {"t": 46.30, "s": "Positive ions", "m": 1.330}, {"t": 46.38, "s": "Positive ions", "m": 1.322}, {"t": 46.46, "s": "Positive ions", "m": 1.299}, {"t": 46.54, "s": "Positive ions", "m": 1.283}, {"t": 46.62, "s": "Positive ions", "m": 1.275}, {"t": 46.70, "s": "Positive ions", "m": 1.283}, {"t": 46.78, "s": "Positive ions", "m": 1.291}, {"t": 46.86, "s": "Positive ions", "m": 1.283}, {"t": 46.94, "s": "Positive ions", "m": 1.291}, {"t": 47.00, "s": "Positive ions", "m": 1.299}
    ],
    "aerosol": [
      {"t": 14.68, "a": 3430}, {"t": 14.80, "a": 2840}, {"t": 14.91, "a": 3000}, {"t": 15.04, "a": 2610}, {"t": 15.12, "a": 2100}, {"t": 15.23, "a": 2420}, {"t": 15.32, "a": 1670}, {"t": 15.48, "a": 2490}, {"t": 15.64, "a": 2570}, {"t": 15.76, "a": 3350}, {"t": 15.84, "a": 3620}, {"t": 15.91, "a": 3120}, {"t": 15.96, "a": 1250}, {"t": 16.07, "a": 1440}, {"t": 16.15, "a": 1400}, {"t": 16.23, "a": 815}, {"t": 16.34, "a": 1010}, {"t": 16.45, "a": 1050}, {"t": 16.60, "a": 740}, {"t": 16.72, "a": 940}, {"t": 16.82, "a": 270}, {"t": 16.92, "a": 420}, {"t": 16.97, "a": 1250}, {"t": 17.03, "a": 1750}, {"t": 17.10, "a": 930}, {"t": 17.27, "a": 1250}, {"t": 17.40, "a": 1170}, {"t": 17.50, "a": 1050}, {"t": 17.62, "a": 780}, {"t": 17.75, "a": 1250}, {"t": 17.88, "a": 1200}, {"t": 17.96, "a": 880}, {"t": 18.07, "a": 390}, {"t": 18.20, "a": 190}, {"t": 18.40, "a": 300}, {"t": 18.55, "a": 500}, {"t": 18.70, "a": 350}, {"t": 18.86, "a": 425}, {"t": 19.02, "a": 310}, {"t": 19.18, "a": 425}, {"t": 19.34, "a": 540}, {"t": 19.50, "a": 740}, {"t": 19.66, "a": 620}, {"t": 19.74, "a": 740}, {"t": 19.90, "a": 425}, {"t": 20.01, "a": 190}, {"t": 20.22, "a": 230}, {"t": 20.38, "a": 190}, {"t": 20.54, "a": 230}, {"t": 20.70, "a": 390}, {"t": 20.86, "a": 425},
      {"t": 20.92, "a": null},
      {"t": 20.97, "a": 1010}, {"t": 21.06, "a": 1090}, {"t": 21.18, "a": 460}, {"t": 21.30, "a": 390}, {"t": 21.43, "a": 780}, {"t": 21.51, "a": 1400}, {"t": 21.58, "a": 2100}, {"t": 21.66, "a": 2800}, {"t": 21.77, "a": 3390}, {"t": 21.86, "a": 2960}, {"t": 21.93, "a": 3080}, {"t": 22.05, "a": 2570}, {"t": 22.13, "a": 3000}, {"t": 22.21, "a": 2770}, {"t": 22.29, "a": 3000}, {"t": 22.40, "a": 3700}, {"t": 22.50, "a": 3350}, {"t": 22.61, "a": 3310}, {"t": 22.69, "a": 2920}, {"t": 22.85, "a": 3820},
      {"t": 23.20, "a": null},
      {"t": 23.57, "a": 1910}, {"t": 23.65, "a": 2250}, {"t": 23.73, "a": 1750}, {"t": 23.81, "a": 2770}, {"t": 23.89, "a": 2100}, {"t": 24.00, "a": 2220}, {"t": 24.12, "a": 2800}, {"t": 24.20, "a": 2730}, {"t": 24.31, "a": 2450}, {"t": 24.41, "a": 2770}, {"t": 24.52, "a": 2330}, {"t": 24.63, "a": 2220}, {"t": 24.77, "a": 1870}, {"t": 24.90, "a": 1630}, {"t": 24.96, "a": 2100}, {"t": 25.05, "a": 2920}, {"t": 25.16, "a": 2020}, {"t": 25.24, "a": 2140}, {"t": 25.37, "a": 2410}, {"t": 25.44, "a": 1870},
      {"t": 25.54, "a": null},
      {"t": 25.64, "a": 1440}, {"t": 25.80, "a": 1010}, {"t": 25.96, "a": 1870}, {"t": 26.04, "a": 1830}, {"t": 26.12, "a": 1360}, {"t": 26.23, "a": 1330}, {"t": 26.36, "a": 1870}, {"t": 26.49, "a": 2020}, {"t": 26.57, "a": 2490}, {"t": 26.68, "a": 1790}, {"t": 26.81, "a": 2410}, {"t": 26.92, "a": 2530}, {"t": 27.00, "a": 2300}, {"t": 27.08, "a": 2530}, {"t": 27.16, "a": 2300}, {"t": 27.29, "a": 2260}, {"t": 27.40, "a": 2450}, {"t": 27.48, "a": 2690}, {"t": 27.51, "a": 2410},
      {"t": 27.60, "a": null},
      {"t": 27.72, "a": 1710}, {"t": 27.83, "a": 2140}, {"t": 27.92, "a": 2410}, {"t": 28.04, "a": 2340}, {"t": 28.12, "a": 2450}, {"t": 28.24, "a": 2180}, {"t": 28.35, "a": 2300}, {"t": 28.43, "a": 2020}, {"t": 28.51, "a": 2690}, {"t": 28.63, "a": 2490}, {"t": 28.72, "a": 2570}, {"t": 28.83, "a": 2450}, {"t": 28.99, "a": 2770}, {"t": 29.07, "a": 2410}, {"t": 29.20, "a": 2100}, {"t": 29.31, "a": 1790}, {"t": 29.42, "a": 2180}, {"t": 29.52, "a": 3120}, {"t": 29.58, "a": 3470}, {"t": 29.65, "a": 2300}, {"t": 29.71, "a": 1480}, {"t": 29.84, "a": 1670}, {"t": 29.95, "a": 1710}, {"t": 30.06, "a": 2020}, {"t": 30.16, "a": 1630}, {"t": 30.27, "a": 1480}, {"t": 30.38, "a": 1090}, {"t": 30.48, "a": 620}, {"t": 30.59, "a": 425}, {"t": 30.67, "a": 1010}, {"t": 30.79, "a": 1250}, {"t": 30.91, "a": 1480}, {"t": 30.99, "a": 2570}, {"t": 31.07, "a": 2410}, {"t": 31.18, "a": 2490}, {"t": 31.27, "a": 2330}, {"t": 31.38, "a": 1090}, {"t": 31.46, "a": 310}, {"t": 31.58, "a": 700}, {"t": 31.70, "a": 190}, {"t": 31.94, "a": 150}, {"t": 32.18, "a": 115}, {"t": 32.34, "a": 150}, {"t": 32.55, "a": 75}, {"t": 32.74, "a": 190}, {"t": 32.98, "a": 270}, {"t": 33.22, "a": 310}, {"t": 33.46, "a": 390}, {"t": 33.62, "a": 425}, {"t": 33.75, "a": 815}, {"t": 33.86, "a": 620}, {"t": 34.02, "a": 540}, {"t": 34.14, "a": 620}, {"t": 34.26, "a": 815}, {"t": 34.42, "a": 620}, {"t": 34.58, "a": 460}, {"t": 34.73, "a": 390}, {"t": 34.86, "a": 620}, {"t": 35.00, "a": 815}, {"t": 35.13, "a": 780}, {"t": 35.26, "a": 930}, {"t": 35.37, "a": 1010}, {"t": 35.48, "a": 815}, {"t": 35.61, "a": 540}, {"t": 35.77, "a": 390}, {"t": 35.90, "a": 620}, {"t": 36.01, "a": 740}, {"t": 36.17, "a": 720}, {"t": 36.33, "a": 700}, {"t": 36.49, "a": 425}, {"t": 36.65, "a": 460}, {"t": 36.76, "a": 700}, {"t": 36.89, "a": 855}, {"t": 37.13, "a": 1010}, {"t": 37.29, "a": 1250}, {"t": 37.45, "a": 1670}, {"t": 37.56, "a": 1480}, {"t": 37.68, "a": 1170}, {"t": 37.84, "a": 1090}, {"t": 37.96, "a": 460}, {"t": 38.08, "a": 780}, {"t": 38.24, "a": 1010}, {"t": 38.35, "a": 1250}, {"t": 38.45, "a": 1790}, {"t": 38.56, "a": 1400}, {"t": 38.72, "a": 1360}, {"t": 38.83, "a": 930}, {"t": 38.96, "a": 660}, {"t": 39.12, "a": 930}, {"t": 39.28, "a": 1170}, {"t": 39.41, "a": 1670}, {"t": 39.52, "a": 1250}, {"t": 39.60, "a": 540}, {"t": 39.71, "a": 390}, {"t": 39.84, "a": 850}, {"t": 39.95, "a": 1250}, {"t": 40.05, "a": 1670}, {"t": 40.14, "a": 1210}, {"t": 40.24, "a": 1360}, {"t": 40.40, "a": 1250}, {"t": 40.52, "a": 1440}, {"t": 40.64, "a": 1560}, {"t": 40.72, "a": 1280}, {"t": 40.84, "a": 1440}, {"t": 40.95, "a": 1320}, {"t": 41.08, "a": 1520}, {"t": 41.19, "a": 1280}, {"t": 41.35, "a": 1440}, {"t": 41.48, "a": 1520}, {"t": 41.59, "a": 1280}, {"t": 41.70, "a": 1480}, {"t": 41.83, "a": 1360}, {"t": 41.96, "a": 1440}, {"t": 42.07, "a": 1280}, {"t": 42.15, "a": 1090},
      {"t": 42.20, "a": null},
      {"t": 42.28, "a": 580}, {"t": 42.47, "a": 460}, {"t": 42.63, "a": 310}, {"t": 42.79, "a": 270}, {"t": 42.95, "a": 390},
      {"t": 43.10, "a": null},
      {"t": 43.27, "a": 150}, {"t": 43.29, "a": 2600}, {"t": 43.33, "a": 2950}, {"t": 43.43, "a": 3660}, {"t": 43.54, "a": 3900}, {"t": 43.58, "a": 2260}, {"t": 43.67, "a": 1630}, {"t": 43.83, "a": 1010}, {"t": 43.94, "a": 540}, {"t": 44.03, "a": 75}, {"t": 44.22, "a": 40},
      {"t": 44.35, "a": null},
      {"t": 44.51, "a": 540}, {"t": 44.62, "a": 780}, {"t": 44.73, "a": 700}, {"t": 44.86, "a": 930}, {"t": 44.99, "a": 815}, {"t": 45.10, "a": 1090}, {"t": 45.21, "a": 930}, {"t": 45.34, "a": 1250}, {"t": 45.47, "a": 1090}, {"t": 45.58, "a": 1400}, {"t": 45.69, "a": 1210}, {"t": 45.79, "a": 1480}, {"t": 45.90, "a": 1280}, {"t": 45.98, "a": 1480}, {"t": 46.07, "a": 1280}, {"t": 46.22, "a": 1210}, {"t": 46.33, "a": 1320}, {"t": 46.43, "a": 1870}
    ]
  },
  "layer": [
    {
      "data": {"name": "ions"},
      "mark": {"type": "line", "invalid": "break-paths-filter-domains", "strokeJoin": "round"},
      "encoding": {
        "x": {
          "field": "t",
          "type": "quantitative",
          "scale": {"domain": [14, 47], "nice": false, "zero": false},
          "axis": {
            "title": "Day",
            "values": [14, 15, 16, 17, 18, 19, 20, 21, 22, 23, 24, 25, 26, 27, 28, 29, 30, 31, 32, 33, 34, 35, 36, 37, 38, 39, 40, 41, 42, 43, 44, 45, 46, 47],
            "labelExpr": "datum.value % 2 === 0 ? toString(datum.value > 30 ? datum.value - 30 : datum.value) : ''",
            "labelPadding": 15,
            "titlePadding": 8,
            "grid": true
          }
        },
        "y": {
          "field": "m",
          "type": "quantitative",
          "scale": {"domain": [1.1, 2.2], "nice": false, "zero": false},
          "axis": {
            "orient": "left",
            "title": "Mean mobility  ( cm²V⁻¹ s⁻¹)",
            "values": [1.1, 1.2, 1.3, 1.4, 1.5, 1.6, 1.7, 1.8, 1.9, 2.0, 2.1, 2.2],
            "labelExpr": "datum.value < 1.75 ? format(datum.value, '.1f') : ''",
            "grid": true,
            "titleAngle": 270,
            "titleX": -68,
            "titleY": 325,
            "titleAlign": "center",
            "titleBaseline": "middle"
          }
        },
        "color": {
          "field": "s",
          "type": "nominal",
          "scale": {"domain": ["Negative ions", "Positive ions"], "range": ["#333333", "#000000"]},
          "legend": {
            "title": null,
            "orient": "none",
            "direction": "horizontal",
            "legendX": 148,
            "legendY": -54,
            "columnPadding": 38,
            "labelOffset": 18
          }
        },
        "strokeWidth": {
          "field": "s",
          "type": "nominal",
          "scale": {"domain": ["Negative ions", "Positive ions"], "range": [1.0, 3.4]},
          "legend": {
            "title": null,
            "orient": "none",
            "direction": "horizontal",
            "legendX": 148,
            "legendY": -54,
            "columnPadding": 38,
            "labelOffset": 18
          }
        }
      }
    },
    {
      "data": {"name": "aerosol"},
      "mark": {"type": "line", "invalid": "break-paths-filter-domains", "color": "black", "strokeWidth": 1.3, "strokeJoin": "round"},
      "encoding": {
        "x": {
          "field": "t",
          "type": "quantitative",
          "scale": {"domain": [14, 47], "nice": false, "zero": false},
          "axis": {
            "title": "Day",
            "values": [14, 15, 16, 17, 18, 19, 20, 21, 22, 23, 24, 25, 26, 27, 28, 29, 30, 31, 32, 33, 34, 35, 36, 37, 38, 39, 40, 41, 42, 43, 44, 45, 46, 47],
            "labelExpr": "datum.value % 2 === 0 ? toString(datum.value > 30 ? datum.value - 30 : datum.value) : ''",
            "labelPadding": 15,
            "titlePadding": 8,
            "grid": true
          }
        },
        "y": {
          "field": "a",
          "type": "quantitative",
          "scale": {"domain": [-7000, 4000], "nice": false, "zero": false},
          "axis": {
            "orient": "right",
            "title": "Aerosol  (cm⁻³)",
            "values": [0, 1000, 2000, 3000, 4000],
            "format": "d",
            "grid": false,
            "titleAngle": 270,
            "titleX": 85,
            "titleY": 91,
            "titleAlign": "center",
            "titleBaseline": "middle"
          }
        }
      }
    }
  ],
  "resolve": {"scale": {"y": "independent"}}
}
